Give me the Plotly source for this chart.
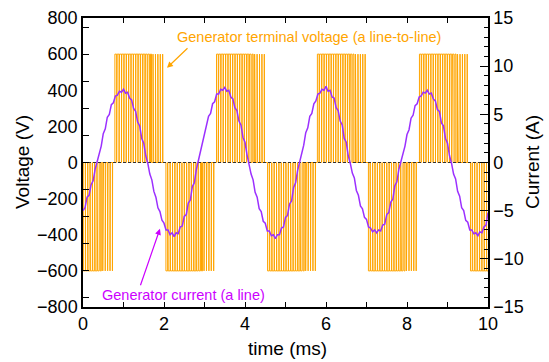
import plotly.graph_objects as go

# ---------------- data ----------------
time_ms = [round(0.05 * i, 2) for i in range(201)]

current_a = [
    -5.0, -4.7, -3.6, -3.4, -2.3, -1.9, -0.7,
    # cycle 1
    0.1, 1.2, 1.7, 3.0, 3.5, 4.7, 5.0, 6.0, 6.2, 6.9, 7.0, 7.4, 7.3, 7.6, 7.2, 7.3, 6.7, 6.5, 5.6, 5.3, 4.2, 3.8, 2.5, 2.0, 0.7,
    -0.1, -1.2, -1.8, -3.0, -3.6, -4.7, -5.1, -6.0, -6.3, -7.0, -7.0, -7.5, -7.3, -7.7, -7.3, -7.4, -6.7, -6.6, -5.6, -5.4, -4.2, -3.9, -2.5, -2.1, -0.7,
    # cycle 2
    0.2, 1.1, 1.8, 3.0, 3.6, 4.8, 5.1, 6.1, 6.3, 7.1, 7.1, 7.6, 7.5, 7.8, 7.4, 7.5, 6.8, 6.6, 5.7, 5.4, 4.3, 3.9, 2.6, 2.1, 0.8,
    -0.2, -1.2, -1.8, -3.1, -3.6, -4.8, -5.1, -6.1, -6.3, -7.1, -7.1, -7.6, -7.5, -7.9, -7.5, -7.5, -6.8, -6.7, -5.7, -5.5, -4.3, -4.0, -2.6, -2.1, -0.8,
    # cycle 3
    0.1, 1.2, 1.8, 3.1, 3.6, 4.8, 5.1, 6.1, 6.4, 7.1, 7.2, 7.6, 7.5, 7.9, 7.4, 7.5, 6.8, 6.7, 5.7, 5.4, 4.3, 3.9, 2.5, 2.1, 0.7,
    -0.1, -1.1, -1.6, -2.9, -3.4, -4.5, -4.8, -5.7, -5.9, -6.7, -6.8, -7.2, -7.0, -7.3, -7.0, -7.1, -6.5, -6.4, -5.4, -5.2, -4.1, -3.8, -2.4, -2.0, -0.7,
    # cycle 4
    0.1, 1.2, 1.7, 2.9, 3.4, 4.6, 4.9, 5.9, 6.1, 6.8, 6.9, 7.3, 7.2, 7.5, 7.1, 7.2, 6.6, 6.4, 5.5, 5.3, 4.1, 3.8, 2.5, 2.0, 0.7,
    -0.1, -1.2, -1.7, -3.0, -3.5, -4.7, -5.0, -6.0, -6.2, -7.0, -7.0, -7.4, -7.3, -7.6, -7.2, -7.3, -6.7, -6.5, -5.2,
]

# PWM line-to-line voltage: half-cycle blocks of pulses
block_start_ms = [-0.46, 0.78, 2.04, 3.29, 4.55, 5.78, 7.04, 8.30, 9.56]
block_sign = [-1, 1, -1, 1, -1, 1, -1, 1, -1]
pwm_slot_ms = 0.058
pwm_duty = [0.75, 0.82, 0.86, 0.88, 0.9, 0.9, 0.9, 0.9, 0.9, 0.88, 0.86,
            0.84, 0.8, 0.75, 0.65, 0.45, 0.3, 0.22, 0.16, 0.12, 0.08]
dc_level_v = 600

x_ticks = [0, 1, 2, 3, 4, 5, 6, 7, 8, 9, 10]
x_ticktext = ["0", "", "2", "", "4", "", "6", "", "8", "", "10"]
v_label_vals = [-800, -600, -400, -200, 0, 200, 400, 600, 800]
v_tick_vals = [-750, -600, -450, -300, -150, 0, 150, 300, 450, 600, 750]
i_label_vals = [-15, -10, -5, 0, 5, 10, 15]

ORANGE = "#FFA500"
PURPLE = "#9B30FF"
MAGENTA = "#CC00FF"

# --------------- build voltage steps ---------------
v_t, v_v = [], []
for start, sign in zip(block_start_ms, block_sign):
    for i, d in enumerate(pwm_duty):
        c = start + (i + 0.5) * pwm_slot_ms
        t_on = c - d * pwm_slot_ms / 2
        t_off = c + d * pwm_slot_ms / 2
        v_t += [t_on, t_on, t_off, t_off]
        v_v += [0, sign * dc_level_v, sign * dc_level_v, 0]

fig = go.Figure()
fig.add_trace(go.Scatter(x=v_t, y=v_v, mode="lines",
                         line=dict(color=ORANGE, width=1), hoverinfo="skip"))
fig.add_trace(go.Scatter(x=[0, 10], y=[0, 0], mode="lines",
                         line=dict(color="#333333", width=1.2, dash="3px,2px"),
                         hoverinfo="skip"))
fig.add_trace(go.Scatter(x=time_ms, y=current_a, mode="lines", yaxis="y2",
                         line=dict(color=PURPLE, width=1.5), hoverinfo="skip"))
# dummy trace for the left tick axis
fig.add_trace(go.Scatter(x=[None], y=[None], yaxis="y3", showlegend=False))

axis_common = dict(showline=True, linecolor="black", linewidth=1.5,
                   showgrid=False, zeroline=False, tickcolor="black",
                   tickwidth=1.2, automargin=False)

fig.update_layout(
    width=549, height=362,
    margin=dict(l=83, r=61, t=18, b=55, autoexpand=False),
    paper_bgcolor="white", plot_bgcolor="white",
    showlegend=False,
    font=dict(family="Liberation Sans, Arial, sans-serif", size=18, color="black"),
    xaxis=dict(range=[0, 10], tickvals=x_ticks, ticktext=x_ticktext,
               ticks="inside", ticklen=5, mirror="ticks", **axis_common),
    yaxis=dict(range=[-800, 800], tickvals=v_label_vals, ticks="",
               **axis_common),
    yaxis2=dict(range=[-15, 15], overlaying="y", side="right",
                tickvals=i_label_vals, ticks="inside", ticklen=8,
                minor=dict(dtick=1, ticks="inside", ticklen=4,
                           tickcolor="black", tickwidth=1.2),
                **axis_common),
    yaxis3=dict(range=[-800, 800], overlaying="y", side="left",
                tickvals=v_tick_vals, ticks="inside", ticklen=6,
                showticklabels=False, **axis_common),
)

annos = [
    dict(text="Voltage (V)", x=-0.1506, y=0.5017, xref="paper", yref="paper",
         xanchor="center", yanchor="middle",
         textangle=-90, showarrow=False, font=dict(size=19)),
    dict(text="Current (A)", x=1.1086, y=0.5017, xref="paper", yref="paper",
         xanchor="center", yanchor="middle",
         textangle=-90, showarrow=False, font=dict(size=19)),
    dict(text="time (ms)", x=0.505, y=-0.142, xref="paper", yref="paper",
         xanchor="center", yanchor="middle",
         showarrow=False, font=dict(size=19)),
    dict(text="Generator terminal voltage (a line-to-line)", x=2.27, y=696,
         xref="x", yref="y", xanchor="left", yanchor="middle",
         showarrow=False, font=dict(size=14.5, color=ORANGE)),
    dict(text="", x=2.074, y=524, xref="x", yref="y", ax=22, ay=-21,
         showarrow=True, arrowhead=2, arrowsize=1, arrowwidth=1.2,
         arrowcolor=ORANGE),
    dict(text="Generator current (a line)", x=0.42, y=-732,
         xref="x", yref="y", xanchor="left", yanchor="middle",
         showarrow=False, font=dict(size=14.5, color=MAGENTA)),
    dict(text="", x=1.90, y=-367, xref="x", yref="y", ax=-20, ay=58,
         showarrow=True, arrowhead=2, arrowsize=1, arrowwidth=1.2,
         arrowcolor=MAGENTA),
]
fig.update_layout(annotations=annos)

fig.write_html("out.html",
               config={"displayModeBar": False},
               post_script="document.body.style.margin='0px';")
